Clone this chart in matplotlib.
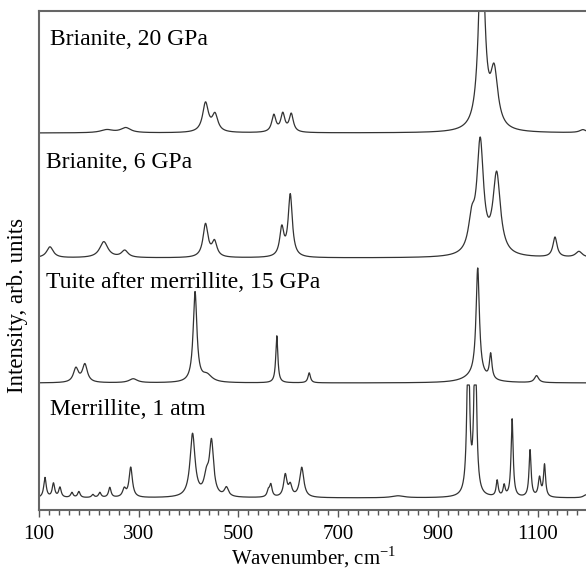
import numpy as np
import matplotlib
matplotlib.use("Agg")
import matplotlib.pyplot as plt

plt.rcParams["font.family"] = ["Liberation Serif", "DejaVu Serif"]
plt.rcParams["mathtext.fontset"] = "custom"
plt.rcParams["mathtext.rm"] = "Liberation Serif"

# Raman bands: centre (cm-1), height, half-width
# Brianite, 20 GPa
b20_pos = [236, 274, 434, 453, 571, 589, 606, 988, 1013, 1191]
b20_amp = [3, 5, 29, 17, 17, 18, 18, 200, 55, 3]
b20_wid = [15, 12, 7, 7, 5, 5, 5, 7, 9, 8]
b20_base = 377

# Brianite, 6 GPa
b6_pos = [122, 230, 272, 434, 452, 587, 604, 968, 985, 1018, 1135, 1183]
b6_amp = [11, 16, 7, 33, 15, 28, 62, 30, 110, 80, 20, 6]
b6_wid = [8, 10, 8, 6, 6, 5, 5, 8, 8, 9, 5, 8]
b6_base = 252

# Tuite after merrillite, 15 GPa
tu_pos = [174, 192, 289, 413, 437, 577, 642, 975, 980, 1006, 1098]
tu_amp = [14, 18, 4, 90, 7, 47, 10, 7, 108, 25, 7]
tu_wid = [6, 6, 10, 4.5, 12, 2.5, 3, 25, 4, 3, 5]
tu_base = 127

# Merrillite, 1 atm
me_pos = [112, 129, 142, 166, 180, 208, 222, 242, 271, 284, 408, 436, 446,
          476, 560, 565, 594, 604, 627, 820, 961, 975, 1019, 1033, 1049,
          1085, 1104, 1114, 1197]
me_amp = [20, 14, 10, 5, 6, 3, 5, 10, 8, 30, 63, 18, 53, 9, 6, 12, 22, 11,
          30, 2, 170, 170, 16, 11, 78, 47, 19, 32, 3]
me_wid = [3, 3, 3, 3, 3, 3, 3, 3, 4, 4, 6, 6, 5, 5, 3, 3, 4, 4, 5, 15, 3, 3,
          2.5, 2.5, 2.5, 2.5, 3, 2.5, 6]
me_base = 12
me_cap = 125

labels = ["Brianite, 20 GPa", "Brianite, 6 GPa",
          "Tuite after merrillite, 15 GPa", "Merrillite, 1 atm"]
label_x = [122, 114, 114, 122]
label_y = [465, 342, 222, 95]

wn = np.arange(100, 1200.5, 0.5)


def spectrum(pos, amp, wid, base):
    y = np.full_like(wn, float(base))
    for p, a, w in zip(pos, amp, wid):
        y += a / (1 + ((wn - p) / w) ** 2)
    return y


fig = plt.figure(figsize=(5.86, 5.69), dpi=100)
ax = fig.add_axes([39 / 586, 59 / 569, 548.4 / 586, 499 / 569])

line_kw = dict(color="#333333", lw=0.9)
ax.plot(wn, spectrum(b20_pos, b20_amp, b20_wid, b20_base), **line_kw)
ax.plot(wn, spectrum(b6_pos, b6_amp, b6_wid, b6_base), **line_kw)
ax.plot(wn, spectrum(tu_pos, tu_amp, tu_wid, tu_base), **line_kw)
ax.plot(wn, np.minimum(spectrum(me_pos, me_amp, me_wid, me_base), me_cap),
        **line_kw)

for txt, tx, ty in zip(labels, label_x, label_y):
    ax.text(tx, ty, txt, fontsize=17, va="baseline", ha="left")

ax.set_xlim(100, 1200)
ax.set_ylim(0, 499)
ax.set_xticks(np.arange(100, 1200, 200))
ax.set_xticks(np.arange(100, 1201, 20), minor=True)
ax.set_yticks([])
ax.tick_params(axis="x", which="major", direction="out", length=5, width=1,
               labelsize=15, pad=6, color="#555555")
ax.tick_params(axis="x", which="minor", direction="out", length=3.5, width=1,
               color="#555555")

for side in ["left", "top", "bottom"]:
    ax.spines[side].set_color("#666666")
    ax.spines[side].set_linewidth(1.5)
ax.spines["right"].set_visible(False)

ax.set_xlabel("Wavenumber, cm$^{-1}$", fontsize=15, labelpad=0)
ax.set_ylabel("Intensity, arb. units", fontsize=16.5)
ax.yaxis.set_label_coords(-0.02, 0.41)

fig.savefig("out.png", dpi=100)
